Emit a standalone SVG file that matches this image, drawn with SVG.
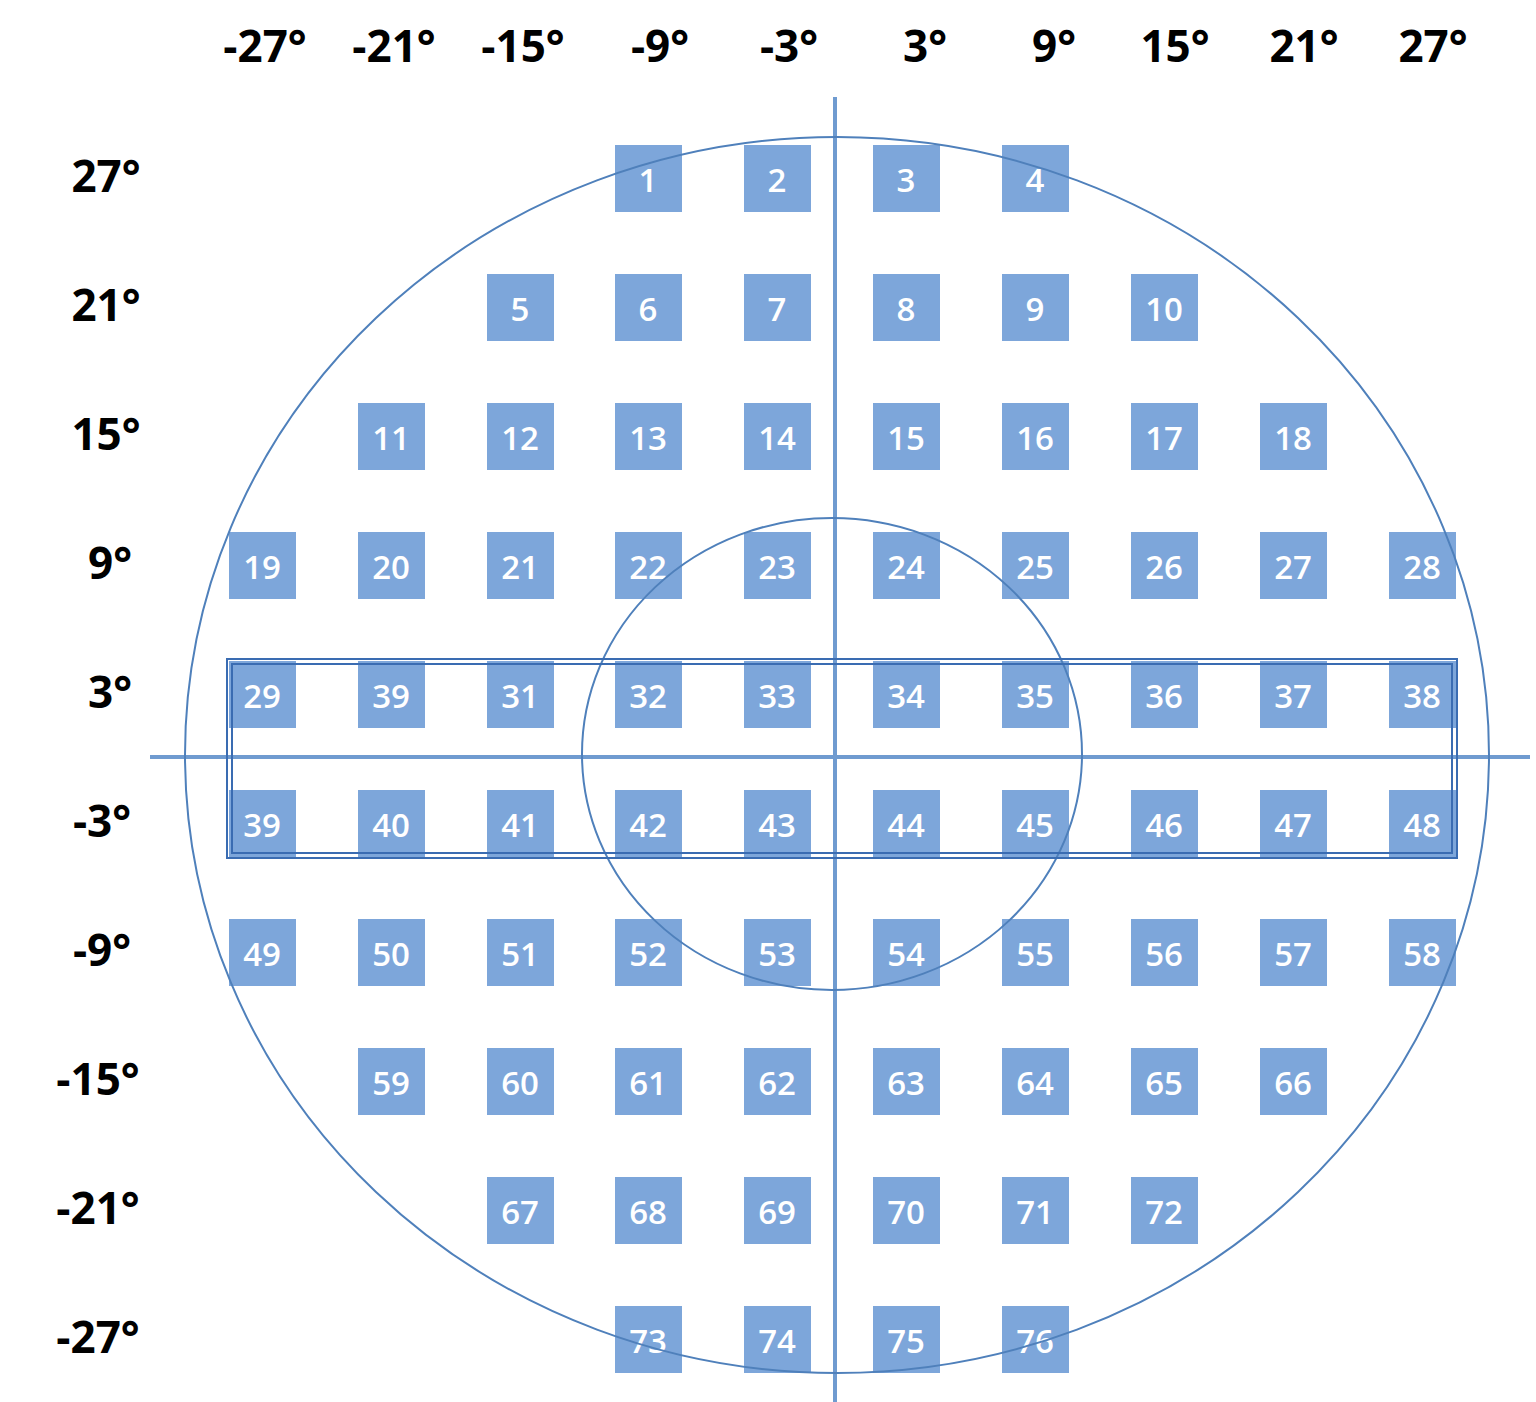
<svg xmlns="http://www.w3.org/2000/svg" width="1536" height="1402" viewBox="0 0 1536 1402">
<style>
.sq rect{fill:#7da6da}
.sq text{fill:#fff;font-family:"Open Sans","Liberation Sans",sans-serif;font-size:33px;font-weight:600;text-anchor:middle}
.ax{fill:#000;font-family:"Open Sans","Liberation Sans",sans-serif;font-weight:bold;font-size:44px;text-anchor:middle}
.ln{stroke:#6f9bd0;fill:none}
</style>
<rect width="1536" height="1402" fill="#fff"/>
<g id="axis-labels">
<text class="ax" x="265" y="62">-27°</text>
<text class="ax" x="394" y="62">-21°</text>
<text class="ax" x="523" y="62">-15°</text>
<text class="ax" x="660" y="62">-9°</text>
<text class="ax" x="789" y="62">-3°</text>
<text class="ax" x="925" y="62">3°</text>
<text class="ax" x="1054" y="62">9°</text>
<text class="ax" x="1175" y="62">15°</text>
<text class="ax" x="1304" y="62">21°</text>
<text class="ax" x="1433" y="62">27°</text>
<text class="ax" x="106" y="192">27°</text>
<text class="ax" x="106" y="321">21°</text>
<text class="ax" x="106" y="450">15°</text>
<text class="ax" x="110" y="579">9°</text>
<text class="ax" x="110" y="708">3°</text>
<text class="ax" x="102" y="837">-3°</text>
<text class="ax" x="102" y="966">-9°</text>
<text class="ax" x="98" y="1095">-15°</text>
<text class="ax" x="98" y="1224">-21°</text>
<text class="ax" x="98" y="1353">-27°</text>
</g>
<g id="squares" class="sq">
<g id="n1"><rect x="615" y="145" width="67" height="67"/><text x="648" y="192">1</text></g>
<g id="n2"><rect x="744" y="145" width="67" height="67"/><text x="777" y="192">2</text></g>
<g id="n3"><rect x="873" y="145" width="67" height="67"/><text x="906" y="192">3</text></g>
<g id="n4"><rect x="1002" y="145" width="67" height="67"/><text x="1035" y="192">4</text></g>
<g id="n5"><rect x="487" y="274" width="67" height="67"/><text x="520" y="321">5</text></g>
<g id="n6"><rect x="615" y="274" width="67" height="67"/><text x="648" y="321">6</text></g>
<g id="n7"><rect x="744" y="274" width="67" height="67"/><text x="777" y="321">7</text></g>
<g id="n8"><rect x="873" y="274" width="67" height="67"/><text x="906" y="321">8</text></g>
<g id="n9"><rect x="1002" y="274" width="67" height="67"/><text x="1035" y="321">9</text></g>
<g id="n10"><rect x="1131" y="274" width="67" height="67"/><text x="1164" y="321">10</text></g>
<g id="n11"><rect x="358" y="403" width="67" height="67"/><text x="391" y="450">11</text></g>
<g id="n12"><rect x="487" y="403" width="67" height="67"/><text x="520" y="450">12</text></g>
<g id="n13"><rect x="615" y="403" width="67" height="67"/><text x="648" y="450">13</text></g>
<g id="n14"><rect x="744" y="403" width="67" height="67"/><text x="777" y="450">14</text></g>
<g id="n15"><rect x="873" y="403" width="67" height="67"/><text x="906" y="450">15</text></g>
<g id="n16"><rect x="1002" y="403" width="67" height="67"/><text x="1035" y="450">16</text></g>
<g id="n17"><rect x="1131" y="403" width="67" height="67"/><text x="1164" y="450">17</text></g>
<g id="n18"><rect x="1260" y="403" width="67" height="67"/><text x="1293" y="450">18</text></g>
<g id="n19"><rect x="229" y="532" width="67" height="67"/><text x="262" y="579">19</text></g>
<g id="n20"><rect x="358" y="532" width="67" height="67"/><text x="391" y="579">20</text></g>
<g id="n21"><rect x="487" y="532" width="67" height="67"/><text x="520" y="579">21</text></g>
<g id="n22"><rect x="615" y="532" width="67" height="67"/><text x="648" y="579">22</text></g>
<g id="n23"><rect x="744" y="532" width="67" height="67"/><text x="777" y="579">23</text></g>
<g id="n24"><rect x="873" y="532" width="67" height="67"/><text x="906" y="579">24</text></g>
<g id="n25"><rect x="1002" y="532" width="67" height="67"/><text x="1035" y="579">25</text></g>
<g id="n26"><rect x="1131" y="532" width="67" height="67"/><text x="1164" y="579">26</text></g>
<g id="n27"><rect x="1260" y="532" width="67" height="67"/><text x="1293" y="579">27</text></g>
<g id="n28"><rect x="1389" y="532" width="67" height="67"/><text x="1422" y="579">28</text></g>
<g id="n29"><rect x="229" y="661" width="67" height="67"/><text x="262" y="708">29</text></g>
<g id="n30"><rect x="358" y="661" width="67" height="67"/><text x="391" y="708">39</text></g>
<g id="n31"><rect x="487" y="661" width="67" height="67"/><text x="520" y="708">31</text></g>
<g id="n32"><rect x="615" y="661" width="67" height="67"/><text x="648" y="708">32</text></g>
<g id="n33"><rect x="744" y="661" width="67" height="67"/><text x="777" y="708">33</text></g>
<g id="n34"><rect x="873" y="661" width="67" height="67"/><text x="906" y="708">34</text></g>
<g id="n35"><rect x="1002" y="661" width="67" height="67"/><text x="1035" y="708">35</text></g>
<g id="n36"><rect x="1131" y="661" width="67" height="67"/><text x="1164" y="708">36</text></g>
<g id="n37"><rect x="1260" y="661" width="67" height="67"/><text x="1293" y="708">37</text></g>
<g id="n38"><rect x="1389" y="661" width="67" height="67"/><text x="1422" y="708">38</text></g>
<g id="n39"><rect x="229" y="790" width="67" height="67"/><text x="262" y="837">39</text></g>
<g id="n40"><rect x="358" y="790" width="67" height="67"/><text x="391" y="837">40</text></g>
<g id="n41"><rect x="487" y="790" width="67" height="67"/><text x="520" y="837">41</text></g>
<g id="n42"><rect x="615" y="790" width="67" height="67"/><text x="648" y="837">42</text></g>
<g id="n43"><rect x="744" y="790" width="67" height="67"/><text x="777" y="837">43</text></g>
<g id="n44"><rect x="873" y="790" width="67" height="67"/><text x="906" y="837">44</text></g>
<g id="n45"><rect x="1002" y="790" width="67" height="67"/><text x="1035" y="837">45</text></g>
<g id="n46"><rect x="1131" y="790" width="67" height="67"/><text x="1164" y="837">46</text></g>
<g id="n47"><rect x="1260" y="790" width="67" height="67"/><text x="1293" y="837">47</text></g>
<g id="n48"><rect x="1389" y="790" width="67" height="67"/><text x="1422" y="837">48</text></g>
<g id="n49"><rect x="229" y="919" width="67" height="67"/><text x="262" y="966">49</text></g>
<g id="n50"><rect x="358" y="919" width="67" height="67"/><text x="391" y="966">50</text></g>
<g id="n51"><rect x="487" y="919" width="67" height="67"/><text x="520" y="966">51</text></g>
<g id="n52"><rect x="615" y="919" width="67" height="67"/><text x="648" y="966">52</text></g>
<g id="n53"><rect x="744" y="919" width="67" height="67"/><text x="777" y="966">53</text></g>
<g id="n54"><rect x="873" y="919" width="67" height="67"/><text x="906" y="966">54</text></g>
<g id="n55"><rect x="1002" y="919" width="67" height="67"/><text x="1035" y="966">55</text></g>
<g id="n56"><rect x="1131" y="919" width="67" height="67"/><text x="1164" y="966">56</text></g>
<g id="n57"><rect x="1260" y="919" width="67" height="67"/><text x="1293" y="966">57</text></g>
<g id="n58"><rect x="1389" y="919" width="67" height="67"/><text x="1422" y="966">58</text></g>
<g id="n59"><rect x="358" y="1048" width="67" height="67"/><text x="391" y="1095">59</text></g>
<g id="n60"><rect x="487" y="1048" width="67" height="67"/><text x="520" y="1095">60</text></g>
<g id="n61"><rect x="615" y="1048" width="67" height="67"/><text x="648" y="1095">61</text></g>
<g id="n62"><rect x="744" y="1048" width="67" height="67"/><text x="777" y="1095">62</text></g>
<g id="n63"><rect x="873" y="1048" width="67" height="67"/><text x="906" y="1095">63</text></g>
<g id="n64"><rect x="1002" y="1048" width="67" height="67"/><text x="1035" y="1095">64</text></g>
<g id="n65"><rect x="1131" y="1048" width="67" height="67"/><text x="1164" y="1095">65</text></g>
<g id="n66"><rect x="1260" y="1048" width="67" height="67"/><text x="1293" y="1095">66</text></g>
<g id="n67"><rect x="487" y="1177" width="67" height="67"/><text x="520" y="1224">67</text></g>
<g id="n68"><rect x="615" y="1177" width="67" height="67"/><text x="648" y="1224">68</text></g>
<g id="n69"><rect x="744" y="1177" width="67" height="67"/><text x="777" y="1224">69</text></g>
<g id="n70"><rect x="873" y="1177" width="67" height="67"/><text x="906" y="1224">70</text></g>
<g id="n71"><rect x="1002" y="1177" width="67" height="67"/><text x="1035" y="1224">71</text></g>
<g id="n72"><rect x="1131" y="1177" width="67" height="67"/><text x="1164" y="1224">72</text></g>
<g id="n73"><rect x="615" y="1306" width="67" height="67"/><text x="648" y="1353">73</text></g>
<g id="n74"><rect x="744" y="1306" width="67" height="67"/><text x="777" y="1353">74</text></g>
<g id="n75"><rect x="873" y="1306" width="67" height="67"/><text x="906" y="1353">75</text></g>
<g id="n76"><rect x="1002" y="1306" width="67" height="67"/><text x="1035" y="1353">76</text></g>
</g>
<g id="lines">
<line class="ln" x1="835" y1="97" x2="835" y2="1402" stroke-width="4"/>
<line class="ln" x1="150" y1="757" x2="1530" y2="757" stroke-width="4"/>
<ellipse cx="837" cy="755" rx="652" ry="618" fill="none" stroke="#4f80bb" stroke-width="2"/>
<ellipse cx="832" cy="754" rx="250" ry="236" fill="none" stroke="#4f80bb" stroke-width="2"/>
<rect x="227" y="659" width="1230" height="199" fill="none" stroke="#3a6cb2" stroke-width="2"/>
<rect x="232" y="664" width="1220" height="189" fill="none" stroke="#3a6cb2" stroke-width="2"/>
</g>
</svg>
